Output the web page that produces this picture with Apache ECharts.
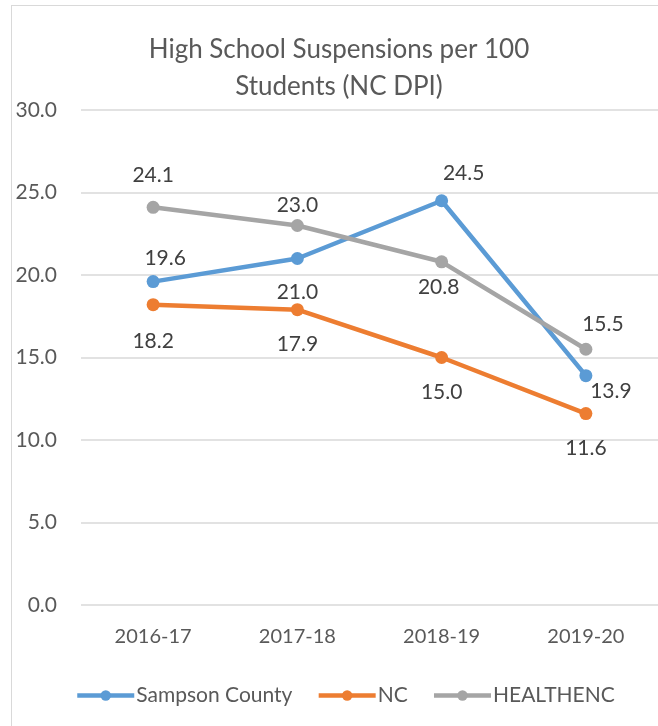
<!DOCTYPE html>
<html>
<head>
<meta charset="utf-8">
<script src="https://cdn.jsdelivr.net/npm/echarts@6/dist/echarts.min.js"></script>
<style>
  html, body { margin: 0; padding: 0; background: #fff; }
  #frame { position: absolute; left: 11px; top: 5px; width: 660px; height: 740px; border: 1px solid #d9d9d9; }
  #chart { position: absolute; left: 0; top: 0; width: 658px; height: 726px; }
</style>
</head>
<body>
<div id="frame"></div>
<div id="chart"></div>
<script>
const years = ['2016-17', '2017-18', '2018-19', '2019-20'];
const sampson = [19.6, 21.0, 24.5, 13.9];
const nc = [18.2, 17.9, 15.0, 11.6];
const healthenc = [24.1, 23.0, 20.8, 15.5];

// label offsets (dx, dy) per point, like the Excel placement
const sampsonOff = [[12, -23], [0, 34], [22, -28], [25, 16]];
const ncOff = [[0, 37], [0, 35], [0, 35], [0, 35]];
const healthOff = [[0, -32], [0, -20], [-3, 25], [17, -25]];

const font = 'Lato, "Open Sans", sans-serif';

function withLabels(values, offs) {
    return values.map(function (v, i) {
        return {
            value: v,
            label: { offset: offs[i] }
        };
    });
}

function makeSeries(name, color, values, offs) {
    return {
        name: name,
        type: 'line',
        data: withLabels(values, offs),
        symbol: 'circle',
        symbolSize: 13,
        lineStyle: { width: 4.5, color: color },
        itemStyle: { color: color },
        label: {
            show: true,
            position: 'inside',
            color: '#404040',
            fontSize: 21,
            fontFamily: font,
            formatter: function (p) { return p.value.toFixed(1); }
        }
    };
}

const chart = echarts.init(document.getElementById('chart'));
chart.setOption({
    animation: false,
    title: {
        text: 'High School Suspensions per 100\nStudents (NC DPI)',
        left: 334,
        textAlign: 'center',
        top: 26,
        textStyle: { color: '#595959', fontSize: 26, fontWeight: 'normal', fontFamily: font, lineHeight: 37 }
    },
    legend: {
        top: 680,
        left: 70,
        itemWidth: 57,
        itemHeight: 13,
        itemGap: 24,
        lineStyle: { width: 4.5 },
        textStyle: { color: '#595959', fontSize: 21, fontFamily: font, padding: [0, 0, 0, -3] },
        data: ['Sampson County', 'NC', 'HEALTHENC']
    },
    grid: { left: 81, right: 0, top: 110, bottom: 121 },
    xAxis: {
        type: 'category',
        data: years,
        axisLine: { show: false },
        axisTick: { show: false },
        axisLabel: { color: '#595959', fontSize: 20, fontFamily: font, margin: 22 }
    },
    yAxis: {
        type: 'value',
        min: 0,
        max: 30,
        interval: 5,
        axisLine: { show: false },
        axisTick: { show: false },
        splitLine: { lineStyle: { color: '#d9d9d9', width: 1.5 } },
        axisLabel: {
            color: '#595959', fontSize: 21, fontFamily: font, margin: 24,
            formatter: function (v) { return v.toFixed(1); }
        }
    },
    series: [
        makeSeries('Sampson County', '#5b9bd5', sampson, sampsonOff),
        makeSeries('NC', '#ed7d31', nc, ncOff),
        makeSeries('HEALTHENC', '#a5a5a5', healthenc, healthOff)
    ]
});
</script>
</body>
</html>
